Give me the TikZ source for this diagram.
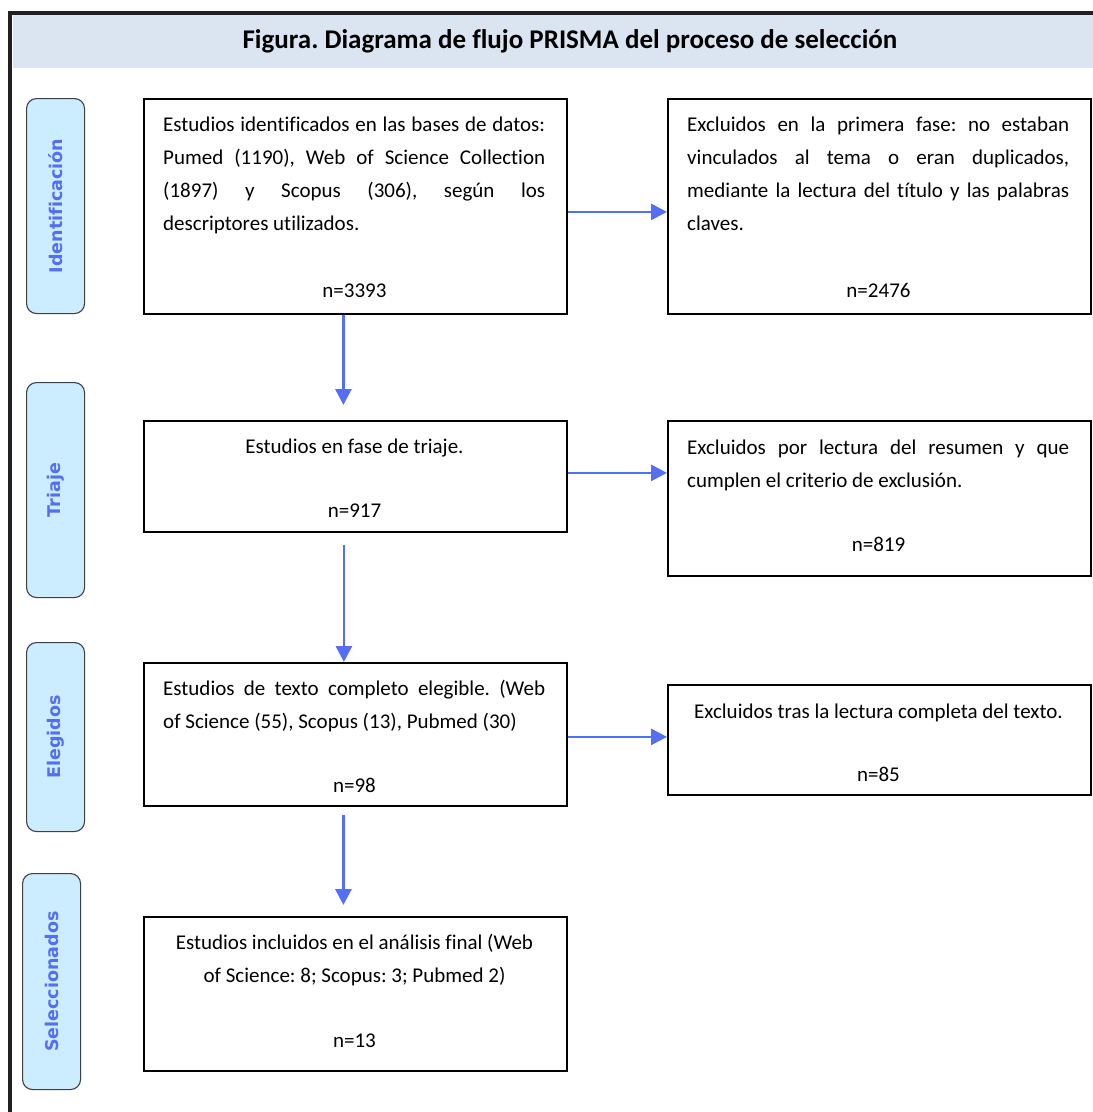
\documentclass[tikz,border=0pt]{standalone}
\usepackage{fontspec}
\setmainfont{Carlito}[Ligatures=NoCommon]
\newfontfamily\lblfont{DejaVu Sans}[Ligatures=NoCommon]
\usetikzlibrary{arrows.meta}
\definecolor{hdr}{RGB}{219,229,241}
\definecolor{lblfill}{RGB}{204,236,255}
\definecolor{flow}{RGB}{84,110,245}
\definecolor{framec}{RGB}{35,31,32}
\newlength\jw \setlength\jw{382pt}
\newcommand\jl[1]{\makebox[\jw][s]{#1}}
\frenchspacing
\begin{document}
\frenchspacing
\begin{tikzpicture}[x=1pt,y=-1pt,
  box/.style={draw=black,line width=1.8pt,inner sep=0pt,anchor=north west,minimum width=423pt},
  phase/.style={draw=black!75,line width=1.1pt,fill=lblfill,rounded corners=10pt,inner sep=0pt,anchor=north west,minimum width=58pt},
  phasetxt/.style={rotate=90,text=flow,font=\lblfont\bfseries\fontsize{17.5}{20}\selectfont,inner sep=0pt},
  body/.style={font=\fontsize{21}{33}\selectfont\frenchspacing,inner sep=0pt,align=left,anchor=base west},
  cbody/.style={font=\fontsize{21}{33}\selectfont\frenchspacing,inner sep=0pt,align=center,anchor=base},
  arr/.style={draw=flow,line width=2.8pt,-{Triangle[length=16pt,width=16pt]}}
]
\useasboundingbox (0,0) rectangle (1093,1112);
% header and frame
\fill[hdr] (13,15) rectangle (1093,68);
\draw[framec,line width=4.5pt] (10,1112) -- (10,13) -- (1093,13);
\node[font=\fontsize{27}{32}\bfseries\selectfont\frenchspacing,anchor=base,inner sep=0pt] (title) at (570,48) {Figura. Diagrama de flujo PRISMA del proceso de selección};
% phase labels
\node[phase,minimum height=215pt] (p1) at (26,98) {};
\node[phasetxt] (p1t) at (p1.center) {Identificación};
\node[phase,minimum height=215pt] (p2) at (26,382) {};
\node[phasetxt] (p2t) at (p2.center) {Triaje};
\node[phase,minimum height=189pt] (p3) at (26,642) {};
\node[phasetxt] (p3t) at (p3.center) {Elegidos};
\node[phase,minimum height=216pt] (p4) at (22,873) {};
\node[phasetxt] (p4t) at (p4.center) {Seleccionados};
% boxes
\node[box,minimum height=215pt] (b1) at (143,98) {};
\node[box,minimum height=215pt] (b2) at (667,98) {};
\node[box,minimum height=111pt] (b3) at (143,420) {};
\node[box,minimum height=155pt] (b4) at (667,420) {};
\node[box,minimum height=143pt] (b5) at (143,662) {};
\node[box,minimum height=110pt] (b6) at (667,684) {};
\node[box,minimum height=154pt] (b7) at (143,916) {};
% texts (anchor = baseline of last line)
\node[body] (b1t) at (163,230) {\jl{Estudios identificados en las bases de datos:}\\\jl{Pumed (1190), Web of Science Collection}\\\jl{(1897) y Scopus (306), según los}\\descriptores utilizados.};
\node[cbody] (b1n) at (354.5,297) {n=3393};
\node[body] (b2t) at (687,230) {\jl{Excluidos en la primera fase: no estaban}\\\jl{vinculados al tema o eran duplicados,}\\\jl{mediante la lectura del título y las palabras}\\claves.};
\node[cbody] (b2n) at (878.5,297) {n=2476};
\node[cbody] (b3t) at (354.5,453) {Estudios en fase de triaje.};
\node[cbody] (b3n) at (354.5,517) {n=917};
\node[body] (b4t) at (687,487) {\jl{Excluidos por lectura del resumen y que}\\cumplen el criterio de exclusión.};
\node[cbody] (b4n) at (878.5,551) {n=819};
\node[body] (b5t) at (163,728) {\jl{Estudios de texto completo elegible. (Web}\\of Science (55), Scopus (13), Pubmed (30)};
\node[cbody] (b5n) at (354.5,792) {n=98};
\node[cbody] (b6t) at (878.5,718) {Excluidos tras la lectura completa del texto.};
\node[cbody] (b6n) at (878.5,781) {n=85};
\node[cbody] (b7t) at (354.5,982) {Estudios incluidos en el análisis final (Web\\of Science: 8; Scopus: 3; Pubmed 2)};
\node[cbody] (b7n) at (354.5,1047) {n=13};
% arrows
\draw[arr,shorten >=15pt] ([xshift=-12pt]b1.south) -- ([xshift=-12pt]b3.north);
\draw[arr,shorten <=12pt] ([xshift=-11.5pt]b3.south) -- ([xshift=-11.5pt]b5.north);
\draw[arr,shorten <=8pt,shorten >=11pt] ([xshift=-12pt]b5.south) -- ([xshift=-12pt]b7.north);
\draw[arr] ([yshift=-5.5pt]b1.east) coordinate (h1) -- (h1 -| b2.west);
\draw[arr] ([yshift=3.5pt]b3.east) coordinate (h2) -- (h2 -| b4.west);
\draw[arr] ([yshift=-2.5pt]b5.east) coordinate (h3) -- (h3 -| b6.west);
\end{tikzpicture}
\end{document}
